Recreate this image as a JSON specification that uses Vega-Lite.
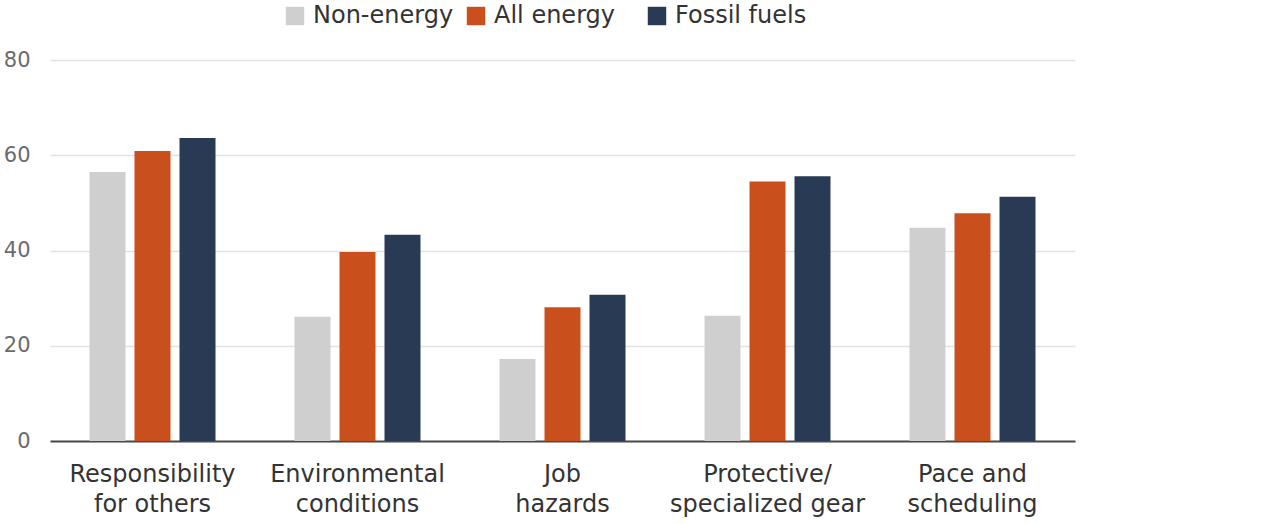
{
  "$schema": "https://vega.github.io/schema/vega-lite/v6.json",
  "width": 1025,
  "height": 381,
  "autosize": {"type": "none"},
  "padding": {"left": 50, "top": 60, "right": 205, "bottom": 83},
  "background": "white",
  "data": {
    "values": [
      {"category": "Responsibility|for others", "series": "Non-energy", "value": 56.5},
      {"category": "Responsibility|for others", "series": "All energy", "value": 60.9},
      {"category": "Responsibility|for others", "series": "Fossil fuels", "value": 63.6},
      {"category": "Environmental|conditions", "series": "Non-energy", "value": 26.1},
      {"category": "Environmental|conditions", "series": "All energy", "value": 39.7},
      {"category": "Environmental|conditions", "series": "Fossil fuels", "value": 43.3},
      {"category": "Job|hazards", "series": "Non-energy", "value": 17.2},
      {"category": "Job|hazards", "series": "All energy", "value": 28.1},
      {"category": "Job|hazards", "series": "Fossil fuels", "value": 30.7},
      {"category": "Protective/|specialized gear", "series": "Non-energy", "value": 26.3},
      {"category": "Protective/|specialized gear", "series": "All energy", "value": 54.5},
      {"category": "Protective/|specialized gear", "series": "Fossil fuels", "value": 55.6},
      {"category": "Pace and|scheduling", "series": "Non-energy", "value": 44.8},
      {"category": "Pace and|scheduling", "series": "All energy", "value": 47.8},
      {"category": "Pace and|scheduling", "series": "Fossil fuels", "value": 51.3}
    ]
  },
  "mark": {"type": "bar"},
  "encoding": {
    "x": {
      "field": "category",
      "type": "nominal",
      "sort": null,
      "scale": {"paddingInner": 0.3415, "paddingOuter": 0.17075},
      "axis": {
        "title": null,
        "labelAngle": 0,
        "labelExpr": "split(datum.label, '|')",
        "labelFont": "DejaVu Sans",
        "labelFontSize": 24,
        "labelLimit": 400,
        "labelColor": "#333333",
        "labelLineHeight": 30,
        "labelPadding": 21,
        "labelBaseline": "top",
        "ticks": false,
        "domain": true,
        "domainColor": "#4a4a4a",
        "domainWidth": 2,
        "grid": false
      }
    },
    "xOffset": {
      "field": "series",
      "type": "nominal",
      "sort": ["Non-energy", "All energy", "Fossil fuels"],
      "scale": {"paddingInner": 0.2, "paddingOuter": 0.1}
    },
    "y": {
      "field": "value",
      "type": "quantitative",
      "scale": {"domain": [0, 80]},
      "axis": {
        "title": null,
        "values": [0, 20, 40, 60, 80],
        "labelFont": "DejaVu Sans",
        "labelFontSize": 21,
        "labelColor": "#6b6b6b",
        "labelPadding": 20,
        "ticks": false,
        "domain": false,
        "grid": true,
        "gridColor": "#e2e2e2",
        "gridWidth": 1.5
      }
    },
    "color": {
      "field": "series",
      "type": "nominal",
      "sort": ["Non-energy", "All energy", "Fossil fuels"],
      "scale": {
        "domain": ["Non-energy", "All energy", "Fossil fuels"],
        "range": ["#cfcfcf", "#c9501c", "#283a54"]
      },
      "legend": {
        "title": null,
        "orient": "none",
        "direction": "horizontal",
        "columns": 3,
        "gridAlign": "all",
        "legendX": 233,
        "legendY": -56,
        "symbolType": "square",
        "symbolSize": 340,
        "symbolStrokeWidth": 0,
        "labelFont": "DejaVu Sans",
        "labelFontSize": 24,
        "labelLimit": 300,
        "labelColor": "#333333",
        "labelOffset": 6,
        "columnPadding": 10
      }
    }
  },
  "config": {
    "view": {"stroke": null}
  }
}
